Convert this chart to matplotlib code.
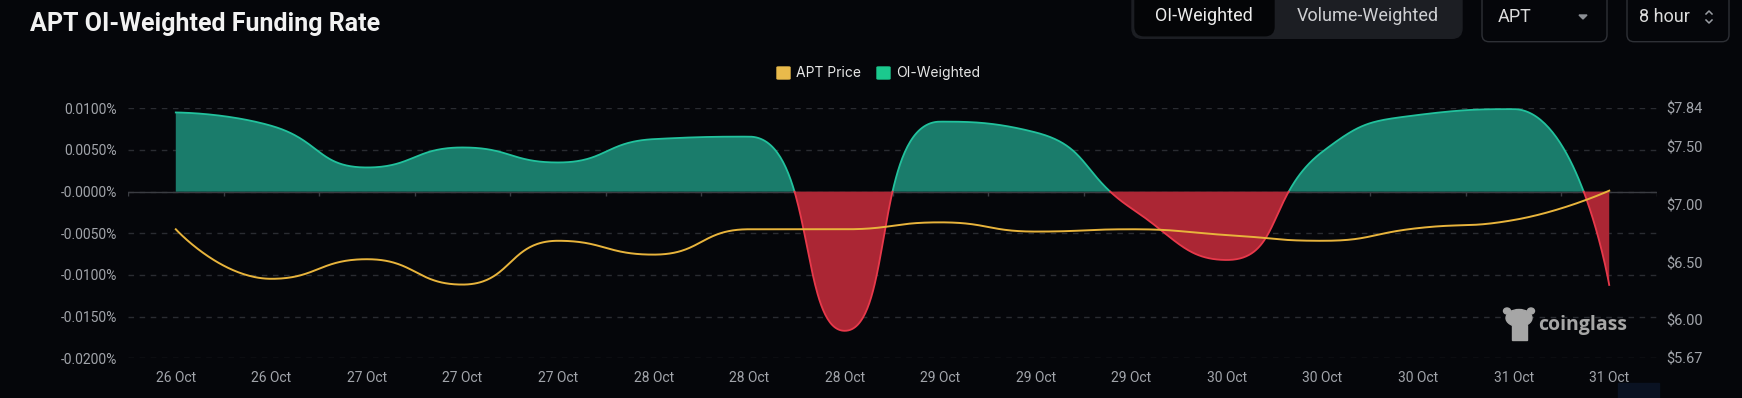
import numpy as np
import matplotlib
matplotlib.use("Agg")
import matplotlib.pyplot as plt
from matplotlib.patches import FancyBboxPatch, Rectangle, Ellipse, Polygon
from matplotlib.lines import Line2D

W, H, DPI = 1742, 398, 100

# ── Data (8-hour funding, 26 Oct → 31 Oct) ────────────────────────────────────
dates = ["26 Oct", "26 Oct", "27 Oct", "27 Oct", "27 Oct", "28 Oct", "28 Oct", "28 Oct",
         "29 Oct", "29 Oct", "29 Oct", "30 Oct", "30 Oct", "30 Oct", "31 Oct", "31 Oct"]
funding = [0.0095, 0.0079, 0.0029, 0.0053, 0.0035, 0.0063, 0.0066, -0.0167,
           0.0084, 0.0071, -0.0020, -0.0082, 0.0048, 0.0092, 0.0099, -0.0112]   # in %
price = [6.79, 6.36, 6.53, 6.31, 6.69, 6.57, 6.79, 6.79,
         6.85, 6.77, 6.79, 6.74, 6.69, 6.80, 6.87, 7.125]

fr_ticks = [0.01, 0.005, 0.0, -0.005, -0.01, -0.015, -0.02]
fr_labels = ["0.0100%", "0.0050%", "-0.0000%", "-0.0050%", "-0.0100%", "-0.0150%", "-0.0200%"]
px_ticks = [7.84, 7.50, 7.00, 6.50, 6.00, 5.67]
px_labels = ["$7.84", "$7.50", "$7.00", "$6.50", "$6.00", "$5.67"]

BG = "#05060a"
GREEN_FILL, GREEN_LINE = "#1a7c6b", "#22c29d"
RED_FILL, RED_LINE = "#ab2634", "#e8394b"
PRICE_COL = "#e8b43c"
LABEL_COL = "#a2a5ab"
GRID_COL = "#2a2c32"
FONT = "Roboto"


def fpx(x, y):
    """pixel (top-left origin) -> figure fraction"""
    return x / W, 1 - y / H


def smooth_curve(xs, ys, kx, ky, smooth=0.5, n=80):
    """echarts-like bezier smoothing, computed in pixel space."""
    P = np.column_stack([np.asarray(xs, float) * kx, np.asarray(ys, float) * ky])
    m = len(P)
    cin = [None] * m
    cout = [None] * m
    cout[0] = P[0].copy()
    cin[-1] = P[-1].copy()
    for k in range(1, m - 1):
        prev, cur, nxt = P[k - 1], P[k], P[k + 1]
        v = nxt - prev
        l0 = np.hypot(*(cur - prev))
        l1 = np.hypot(*(nxt - cur))
        r = l1 / (l0 + l1)
        c1 = cur + v * smooth * r
        c1 = np.maximum(np.minimum(c1, np.maximum(nxt, cur)), np.minimum(nxt, cur))
        c0 = cur - (c1 - cur) * l0 / l1
        c0 = np.maximum(np.minimum(c0, np.maximum(prev, cur)), np.minimum(prev, cur))
        c1 = cur + (cur - c0) * l1 / l0
        cin[k], cout[k] = c0, c1
    t = np.linspace(0, 1, n)[:, None]
    out = []
    for k in range(m - 1):
        a, b, c, d = P[k], cout[k], cin[k + 1], P[k + 1]
        seg = (1 - t) ** 3 * a + 3 * (1 - t) ** 2 * t * b + 3 * (1 - t) * t ** 2 * c + t ** 3 * d
        out.append(seg if k == 0 else seg[1:])
    out = np.vstack(out)
    return out[:, 0] / kx, out[:, 1] / ky


def add_zero_crossings(x, y):
    xs, ys = [x[0]], [y[0]]
    for i in range(1, len(x)):
        if (y[i - 1] > 0 > y[i]) or (y[i - 1] < 0 < y[i]):
            f = y[i - 1] / (y[i - 1] - y[i])
            xs.append(x[i - 1] + f * (x[i] - x[i - 1]))
            ys.append(0.0)
        xs.append(x[i])
        ys.append(y[i])
    return np.array(xs), np.array(ys)


plt.rcParams["font.family"] = [FONT, "DejaVu Sans"]
fig = plt.figure(figsize=(W / DPI, H / DPI), dpi=DPI, facecolor=BG)

left, right, top, bottom = 128, 1657, 108.3, 358.3
ax = fig.add_axes([left / W, 1 - bottom / H, (right - left) / W, (bottom - top) / H])
ax.set_facecolor(BG)
ax2 = ax.twinx()

n = len(funding)
xi = np.arange(n)
ax.set_xlim(-0.5, n - 0.5)
ax.set_ylim(-0.02, 0.01)
ax2.set_ylim(5.67, 7.84)

kx = (right - left) / n
ky_fr = (bottom - top) / 0.03
ky_px = (bottom - top) / (7.84 - 5.67)

# funding area (green above zero, red below)
fx, fy = smooth_curve(xi, funding, kx, ky_fr)
fx, fy = add_zero_crossings(fx, fy)
ax.fill_between(fx, fy, 0, where=fy >= 0, interpolate=True, color=GREEN_FILL, lw=0, zorder=2)
ax.fill_between(fx, fy, 0, where=fy <= 0, interpolate=True, color=RED_FILL, lw=0, zorder=2)
ax.plot(fx, np.where(fy >= 0, fy, np.nan), color=GREEN_LINE, lw=1.3, zorder=3)
ax.plot(fx, np.where(fy <= 0, fy, np.nan), color=RED_LINE, lw=1.3, zorder=3)

# zero axis line with category ticks
ax.axhline(0, color="#3a3c42", lw=1, zorder=1)
ax.vlines(np.arange(-0.5, n, 1), -0.0005, 0, color="#3a3c42", lw=1, zorder=1)

# price line
px_x, px_y = smooth_curve(xi, price, kx, ky_px)
ax2.plot(px_x, px_y, color=PRICE_COL, lw=1.4, zorder=4)

# axes styling
ax.set_yticks(fr_ticks)
ax.set_yticklabels(fr_labels)
ax.set_xticks(xi)
ax.set_xticklabels(dates)
ax.grid(axis="y", color=GRID_COL, lw=1, linestyle=(0, (4, 4)), zorder=0)
ax.set_axisbelow(True)
ax.tick_params(axis="y", length=0, pad=8, labelsize=10, labelcolor=LABEL_COL)
ax.tick_params(axis="x", length=0, pad=9, labelsize=10, labelcolor=LABEL_COL)
ax2.set_yticks(px_ticks)
ax2.set_yticklabels(px_labels)
ax2.tick_params(axis="y", length=0, pad=6.5, labelsize=10.5, labelcolor=LABEL_COL)
for a in (ax, ax2):
    for s in a.spines.values():
        s.set_visible(False)

# title
fig.text(*fpx(29.5, 30.6), "APT OI-Weighted Funding Rate", fontsize=18, fontweight="semibold",
         color="#f2f2f2", va="baseline", ha="left")

# legend
LEG_FONT = ["Inter", "DejaVu Sans"]
fig.patches.append(FancyBboxPatch(fpx(777, 79), 13 / W, 12 / H, boxstyle="round,pad=0,rounding_size=0.001",
                                  transform=fig.transFigure, color="#e9ba4b"))
fig.text(*fpx(796, 73), "APT Price", fontsize=10, color="#e6e6e6", va="center", ha="left", family=LEG_FONT)
fig.patches.append(FancyBboxPatch(fpx(877, 79), 13 / W, 12 / H, boxstyle="round,pad=0,rounding_size=0.001",
                                  transform=fig.transFigure, color="#1bc98e"))
fig.text(*fpx(896, 73), "OI-Weighted", fontsize=10, color="#e6e6e6", va="center", ha="left", family=LEG_FONT)


# top-right controls
def box(x0, y0, x1, y1, face, edge=None, r=8):
    fig.patches.append(FancyBboxPatch(fpx(x0, y1), (x1 - x0) / W, (y1 - y0) / H,
                                      boxstyle=f"round,pad=0,rounding_size={r / W}",
                                      mutation_aspect=W / H, transform=fig.transFigure,
                                      facecolor=face, edgecolor=edge if edge else face, lw=1))


box(1132, -14, 1462, 38.3, "#1c1e23", r=10)
box(1135, -14, 1274, 35.7, "#040507", r=9)
fig.text(*fpx(1204, 16), "OI-Weighted", fontsize=13, color="#ececec", ha="center", va="center")
fig.text(*fpx(1368, 16), "Volume-Weighted", fontsize=13, color="#cfd0d3", ha="center", va="center")
box(1482, -14, 1607, 41.7, BG, "#2e3036", r=7)
fig.text(*fpx(1498, 17), "APT", fontsize=13, color="#dcdcdc", ha="left", va="center")
fig.patches.append(Polygon([fpx(1579, 15), fpx(1587, 15), fpx(1583, 19)], closed=True,
                           transform=fig.transFigure, color="#8c8f95"))
box(1627, -14, 1729, 41.7, BG, "#2e3036", r=7)
fig.text(*fpx(1638.5, 17), "8 hour", fontsize=13, color="#dcdcdc", ha="left", va="center")
for pts in ([(1706, 14), (1709, 11), (1712, 14)], [(1706, 20), (1709, 23), (1712, 20)]):
    xs_, ys_ = zip(*[fpx(*p) for p in pts])
    fig.lines.append(Line2D(xs_, ys_, transform=fig.transFigure, color="#9a9da3", lw=1.1))

# coinglass watermark
WM = "#a6a6a6"
fig.patches.append(Ellipse(fpx(1519, 318), 26 / W, 17 / H, transform=fig.transFigure, color=WM))
fig.patches.append(Ellipse(fpx(1507, 311), 7 / W, 6 / H, transform=fig.transFigure, color=WM))
fig.patches.append(Ellipse(fpx(1531, 311), 7 / W, 6 / H, transform=fig.transFigure, color=WM))
fig.patches.append(Rectangle(fpx(1512, 340), 15 / W, 15 / H, transform=fig.transFigure, color=WM))
fig.text(*fpx(1538, 325), "coinglass", fontsize=14, fontweight="bold", color=WM,
         ha="left", va="center", family=["Open Sans", "DejaVu Sans"])

# small panel corner bottom-right
fig.patches.append(Rectangle(fpx(1618, 398), 41 / W, 15 / H, transform=fig.transFigure, color="#0a1222"))

fig.savefig("out.png", dpi=DPI, facecolor=BG)
